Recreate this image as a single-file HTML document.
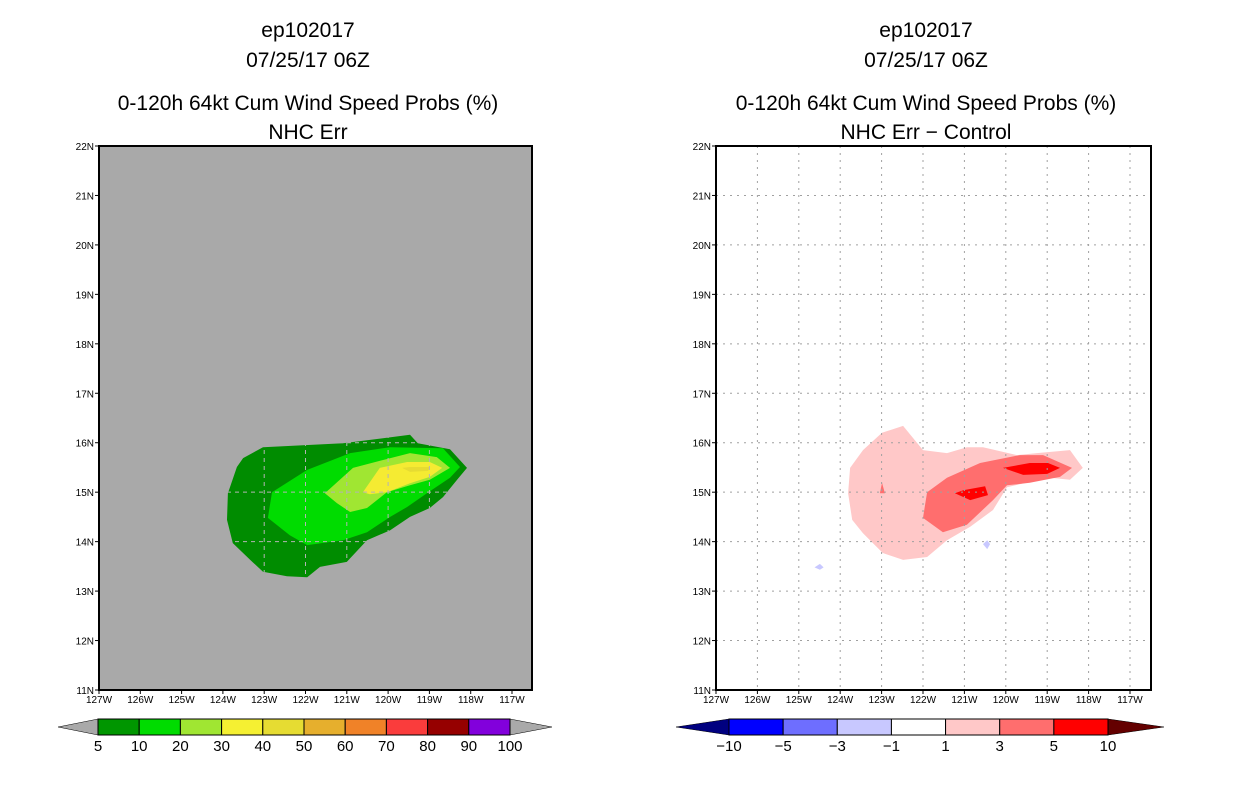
<!DOCTYPE html>
<html><head><meta charset="utf-8"><style>
html,body{margin:0;padding:0;background:#fff;width:1236px;height:800px;overflow:hidden}
svg text{font-family:"Liberation Sans",sans-serif}
</style></head><body>
<svg id="svg" width="1236" height="800" viewBox="0 0 1236 800" xmlns="http://www.w3.org/2000/svg">
<defs id="defs"></defs>
<g id="titles" fill="#000" font-size="21" text-anchor="middle">
<text x="308" y="37">ep102017</text>
<text x="308" y="67">07/25/17 06Z</text>
<text x="308" y="110">0-120h 64kt Cum Wind Speed Probs (%)</text>
<text x="308" y="139">NHC Err</text>
<text x="926" y="37">ep102017</text>
<text x="926" y="67">07/25/17 06Z</text>
<text x="926" y="110">0-120h 64kt Cum Wind Speed Probs (%)</text>
<text x="926" y="139">NHC Err − Control</text>
</g>
</svg>
<script>
// ---- data ----
const lonTicks = [-127,-126,-125,-124,-123,-122,-121,-120,-119,-118,-117];
const latTicks = [11,12,13,14,15,16,17,18,19,20,21,22];
const probLevels = [5,10,20,30,40];
const prob5 = [[-123.03,15.91],[-121.09,15.99],[-119.47,16.16],[-119.28,15.99],[-118.50,15.87],[-118.09,15.49],[-118.33,15.25],[-118.67,14.90],[-118.99,14.68],[-119.47,14.50],[-119.95,14.23],[-120.51,14.03],[-121.00,13.59],[-121.65,13.49],[-121.96,13.28],[-122.45,13.30],[-123.03,13.39],[-123.34,13.63],[-123.76,13.97],[-123.90,14.44],[-123.88,14.98],[-123.66,15.51],[-123.51,15.69]];
const prob10 = [[-122.81,15.00],[-121.96,15.45],[-120.92,15.79],[-119.95,15.91],[-118.67,15.89],[-118.26,15.51],[-118.50,15.29],[-119.06,14.98],[-119.54,14.70],[-119.95,14.50],[-120.51,14.19],[-121.09,14.03],[-121.96,13.93],[-122.38,14.13],[-122.91,14.48]];
const prob20 = [[-121.53,14.98],[-120.85,15.49],[-120.12,15.65],[-119.47,15.79],[-118.82,15.71],[-118.50,15.49],[-118.99,15.25],[-119.47,15.14],[-120.03,15.00],[-120.51,14.68],[-120.92,14.60],[-121.24,14.78]];
const prob30 = [[-120.61,15.00],[-120.20,15.49],[-119.54,15.61],[-118.99,15.61],[-118.69,15.49],[-118.99,15.31],[-119.47,15.18],[-120.03,15.00],[-120.44,14.96]];
const prob40 = [[-119.66,15.49],[-119.47,15.51],[-118.99,15.51],[-119.03,15.43],[-119.47,15.41]];
const diff1 = [[-123.76,15.49],[-123.45,15.85],[-122.99,16.20],[-122.48,16.34],[-122.00,15.85],[-121.42,15.79],[-120.94,15.91],[-120.55,15.91],[-119.73,15.75],[-119.25,15.79],[-118.45,15.85],[-118.14,15.49],[-118.45,15.25],[-118.93,15.29],[-119.42,15.21],[-119.97,15.10],[-120.31,14.64],[-120.86,14.30],[-121.42,14.03],[-121.90,13.69],[-122.48,13.63],[-122.97,13.77],[-123.45,14.17],[-123.71,14.44],[-123.81,14.98]];
const diff3 = [[-121.90,15.00],[-121.42,15.29],[-120.62,15.59],[-119.66,15.75],[-119.10,15.75],[-118.40,15.49],[-118.69,15.31],[-119.42,15.19],[-119.97,15.14],[-120.31,14.84],[-120.94,14.34],[-121.52,14.19],[-122.00,14.48]];
const diff3b = [[-122.99,15.19],[-122.92,14.98],[-123.04,14.98]];
const diff5a = [[-121.23,14.98],[-121.03,15.04],[-120.50,15.12],[-120.43,14.94],[-120.86,14.84]];
const diff5b = [[-120.07,15.49],[-119.42,15.59],[-118.98,15.59],[-118.69,15.49],[-119.00,15.37],[-119.58,15.35]];
const diffNegA = [[-120.55,13.95],[-120.45,14.03],[-120.38,13.95],[-120.45,13.85]];
const diffNegB = [[-124.62,13.48],[-124.49,13.55],[-124.40,13.48],[-124.49,13.43]];
const probColors = ["#009600","#00dc00","#a0e632","#f5f032","#e6dc32","#e6af2d","#f08228","#fa3c3c","#960000","#8200dc"];
const probLabels = ["5","10","20","30","40","50","60","70","80","90","100"];
const diffColors = ["#0000ff","#6e6eff","#c8c8ff","#ffffff","#ffc8c8","#ff6e6e","#ff0000"];
const diffLabels = ["−10","−5","−3","−1","1","3","5","10"];

// ---- drawing ----
const NS="http://www.w3.org/2000/svg";
const svg=document.getElementById('svg');
function mk(tag,attrs,parent){const e=document.createElementNS(NS,tag);for(const k in attrs)e.setAttribute(k,attrs[k]);(parent||svg).appendChild(e);return e;}
function panel(x0,x1,pxPerDeg,name){
  const y0=146,y1=690;
  return {x:lon=>x0+(lon+127)*pxPerDeg, y:lat=>y1-(lat-11)*(y1-y0)/11, x0,x1,y0,y1,name};
}
function ptsStr(p,pts){return pts.map(q=>p.x(q[0]).toFixed(1)+','+p.y(q[1]).toFixed(1)).join(' ');}
function poly(p,pts,fill,name,g){
  const e=mk('polygon',{points:ptsStr(p,pts),fill:fill},g);
  
  
}
function axes(p,bg){
  const g=mk('g',{});
  
  
  const r=mk('rect',{x:p.x0,y:p.y0,width:p.x1-p.x0,height:p.y1-p.y0,fill:bg},g);
  
  
  return g;
}
function grid(p,g,color,dash,clip){
  const attrs={stroke:color,'stroke-width':1,'stroke-dasharray':dash};
  if(clip)attrs['clip-path']='url(#'+clip+')';
  const gg=mk('g',attrs,g);
  
  
  lonTicks.forEach(l=>{if(l>-127)mk('line',{x1:p.x(l),x2:p.x(l),y1:p.y0,y2:p.y1},gg);});
  latTicks.forEach(l=>{if(l>11&&l<22)mk('line',{x1:p.x0,x2:p.x1,y1:p.y(l),y2:p.y(l)},gg);});
}
function frame(p,g){
  const f=mk('rect',{x:p.x0,y:p.y0,width:p.x1-p.x0,height:p.y1-p.y0,fill:'none',stroke:'#000','stroke-width':2},g);
  
  
  const ax=mk('g',{},g);
  
  
  lonTicks.forEach(l=>{
    mk('line',{x1:p.x(l),x2:p.x(l),y1:p.y1,y2:p.y1+4,stroke:'#000'},ax);
    const t=mk('text',{x:p.x(l),y:p.y1+13,'font-size':10,'text-anchor':'middle'},ax);
    t.textContent=(-l)+'W';
    
    
  });
  latTicks.forEach(l=>{
    mk('line',{x1:p.x0-4,x2:p.x0,y1:p.y(l),y2:p.y(l),stroke:'#000'},ax);
    const t=mk('text',{x:p.x0-5,y:p.y(l)+4,'font-size':10,'text-anchor':'end'},ax);
    t.textContent=l+'N';
    
    
  });
}
// left panel
const L=panel(99,532,41.3,'left-panel-probs');
const cp=mk('clipPath',{id:'clip5'},document.getElementById('defs'));
mk('polygon',{points:ptsStr(L,prob5)},cp);
const gL=axes(L,'#a9a9a9');
poly(L,prob5,'#008c00','contour-5',gL);
poly(L,prob10,'#00dc00','contour-10',gL);
poly(L,prob20,'#a0e632','contour-20',gL);
poly(L,prob30,'#f5eb32','contour-30',gL);
poly(L,prob40,'#e6dc32','contour-40',gL);
grid(L,gL,'#b4b4b4','4,4','clip5');
frame(L,gL);
// right panel
const R=panel(716,1151,41.4,'right-panel-diff');
const gR=axes(R,'#ffffff');
poly(R,diff1,'#ffc8c8','diff-1',gR);
poly(R,diff3,'#ff6e6e','diff-3',gR);
poly(R,diff3b,'#ff6e6e','diff-3-small',gR);
poly(R,diff5a,'#ff0000','diff-5-west',gR);
poly(R,diff5b,'#ff0000','diff-5-east',gR);
poly(R,diffNegA,'#c8c8ff','diff-neg-east',gR);
poly(R,diffNegB,'#c8c8ff','diff-neg-west',gR);
grid(R,gR,'#a0a0a0','2,5',null);
frame(R,gR);

function colorbar(x0,x1,tipL,tipR,colors,labels,leftC,rightC,name){
  const y0=719,y1=735,ym=727;
  const g=mk('g',{});
  
  
  const w=(x1-x0)/colors.length;
  const a=mk('polygon',{points:`${tipL},${ym} ${x0},${y0} ${x0},${y1}`,fill:leftC,stroke:'#000','stroke-width':0.5},g);
  
  
  const b=mk('polygon',{points:`${tipR},${ym} ${x1},${y0} ${x1},${y1}`,fill:rightC,stroke:'#000','stroke-width':0.5},g);
  
  
  colors.forEach((c,i)=>{
    const r=mk('rect',{x:x0+i*w,y:y0,width:w,height:y1-y0,fill:c,stroke:'#000','stroke-width':1},g);
    
    
  });
  labels.forEach((s,i)=>{
    const t=mk('text',{x:x0+i*w,y:751,'font-size':15,'text-anchor':'middle'},g);
    t.textContent=s;
    
    
  });
}
colorbar(98,510,58,552,probColors,probLabels,'#a9a9a9','#a9a9a9','left-colorbar');
colorbar(729,1108,676,1164,diffColors,diffLabels,'#000080','#640000','right-colorbar');
</script>
</body></html>
